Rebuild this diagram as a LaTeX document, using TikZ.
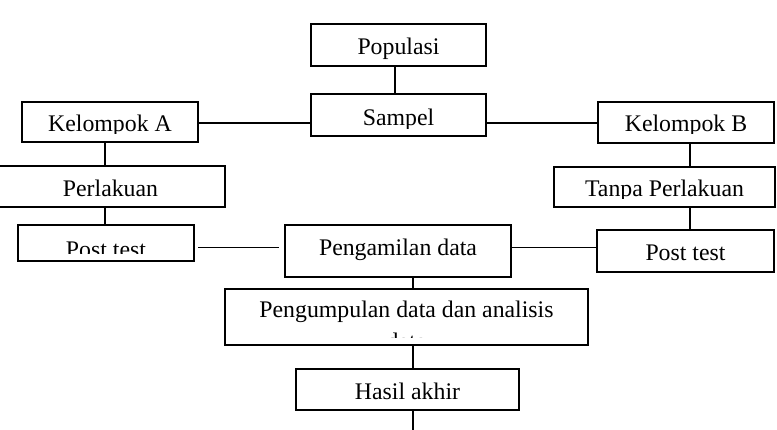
\documentclass[tikz,border=0pt]{standalone}
\usepackage{fontspec}
\setmainfont{Liberation Serif}
\begin{document}
\begin{tikzpicture}[x=1pt,y=-1pt,
  boxstyle/.style={draw, line width=1.3pt, inner sep=0pt, outer sep=0pt},
  txt/.style={anchor=base, inner sep=0pt, outer sep=0pt, font=\fontsize{23.8}{28}\selectfont},
  conn/.style={line width=1.3pt}]
\useasboundingbox[fill=white] (0,0) rectangle (777,430);
% name, x1, y1, x2, y2, text, baseline, clip y
\newcommand\wbox[8]{%
  \node[boxstyle, minimum width={(#4)-(#2)}, minimum height={(#5)-(#3)}] (#1) at ({((#2)+(#4))/2},{((#3)+(#5))/2}) {};
  \begin{scope}
    \clip (#2,#3) rectangle (#4,#8);
    \node[txt] (#1t) at ({((#2)+(#4))/2},#7) {#6};
  \end{scope}}
\wbox{pop}{311}{24}{486}{66}{Populasi}{55}{65}
\wbox{sam}{311}{94}{486}{136}{Sampel}{126}{128.5}
\wbox{ka}{22}{102}{198}{142}{Kelompok A}{132}{133.5}
\wbox{kb}{598}{102}{774}{143}{Kelompok B}{132}{133.5}
\wbox{per}{-4}{166}{225}{207}{Perlakuan}{197}{206}
\wbox{tp}{554}{167}{775}{207}{Tanpa Perlakuan}{197}{198.5}
\wbox{pa}{18}{225}{194}{261}{Post test}{258}{253.5}
\wbox{pd}{285}{225}{511}{277}{Pengamilan data}{256}{276}
\wbox{pb}{597}{230}{774}{272}{Post test}{261}{271}
\wbox{pk}{225}{289}{588}{345}{Pengumpulan data dan analisis}{318}{338}
\begin{scope}
  \clip (225,289) rectangle (588,338);
  \node[txt] (pk2) at (406.5,350) {data};
\end{scope}
\wbox{ha}{296}{369}{519}{410}{Hasil akhir}{400}{409}
% coordinates for connectors
\coordinate (v1) at (395,0);
\coordinate (vA) at (105,0);
\coordinate (vB) at (690,0);
\coordinate (vC) at (413,0);
\coordinate (paR) at (198,247.5);
\coordinate (pdL) at (279,247.5);
\coordinate (pdR) at (511,247.5);
\coordinate (end) at (413,430);
\draw[conn] (pop.south -| v1) -- (sam.north -| v1);
\draw[conn] (ka.east |- 0,123) -- (sam.west |- 0,123);
\draw[conn] (sam.east |- 0,123) -- (kb.west |- 0,123);
\draw[conn] (ka.south -| vA) -- (per.north -| vA);
\draw[conn] (per.south -| vA) -- (pa.north -| vA);
\draw[conn] (kb.south -| vB) -- (tp.north -| vB);
\draw[conn] (tp.south -| vB) -- (pb.north -| vB);
\draw[conn] (paR) -- (pdL);
\draw[conn] (pdR) -- (pb.west |- pdR);
\draw[conn] (pd.south -| vC) -- (pk.north -| vC);
\draw[conn] (pk.south -| vC) -- (ha.north -| vC);
\draw[conn] (ha.south -| vC) -- (end);
\end{tikzpicture}
\end{document}
